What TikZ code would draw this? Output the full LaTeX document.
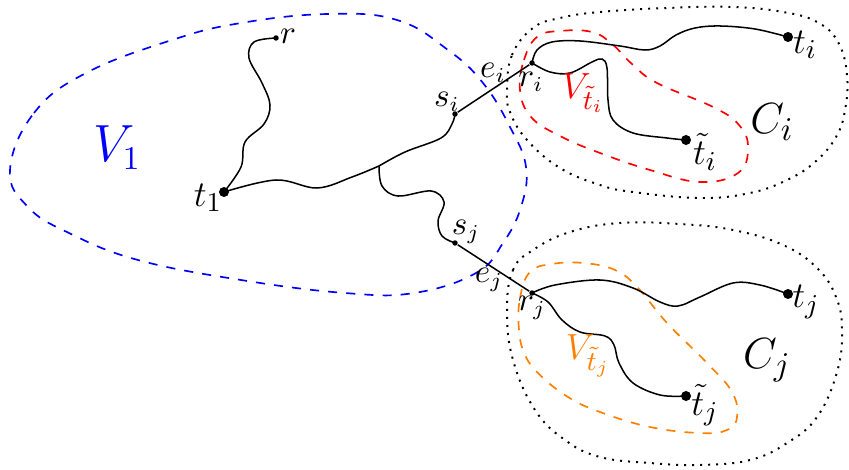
\documentclass[tikz,border=0pt]{standalone}
\begin{document}
\begin{tikzpicture}[x=0.33pt,y=-0.33pt]
\tikzset{
  bigdot/.style={circle,fill=black,inner sep=0pt,minimum size=3.3pt},
  smalldot/.style={circle,fill=black,inner sep=0pt,minimum size=1.8pt},
  lbl/.style={inner sep=0pt,font=\fontsize{10.5}{12}\selectfont},
  tlbl/.style={inner sep=0pt,font=\fontsize{12.5}{14}\selectfont},
  biglbl/.style={inner sep=0pt,font=\fontsize{15}{17}\selectfont},
  edge/.style={line width=0.5pt},
  region/.style={line width=0.55pt,dashed},
  comp/.style={line width=0.65pt,dotted},
}
\useasboundingbox (0,0) rectangle (849,469);

% regions
\draw[region,blue] plot[smooth cycle,tension=0.7] coordinates {
  (10,170) (34,113) (86,73) (172,40) (241,23) (328,14) (397,20) (448,50)
  (483,83) (510,127) (526,167) (521,207) (503,243) (476,273) (414,293)
  (345,293) (241,280) (138,260) (69,233) (28,207)};
\draw[comp] plot[smooth cycle,tension=0.7] coordinates {
  (507,90) (512,55) (533,28) (560,18) (600,12) (667,8) (733,7) (783,12)
  (817,22) (838,42) (847,75) (845,110) (836,137) (815,162) (787,180)
  (750,193) (700,198) (633,192) (600,185) (560,168) (527,140) (510,112)};
\draw[comp] plot[smooth cycle,tension=0.7] coordinates {
  (507,310) (513,270) (533,250) (570,232) (620,223) (680,224) (733,230)
  (783,245) (817,268) (836,297) (842,330) (837,372) (817,417) (787,443)
  (750,460) (700,465) (650,463) (600,457) (565,440) (535,410) (513,360)};
\draw[region,red] plot[smooth cycle,tension=0.7] coordinates {
  (520,90) (524,60) (537,37) (560,31) (592,32) (612,44) (632,64) (657,83)
  (713,107) (739,125) (748,148) (738,173) (700,182) (650,170) (600,153)
  (560,136) (531,117)};
\draw[region,orange] plot[smooth cycle,tension=0.7] coordinates {
  (519,330) (520,298) (530,272) (552,264) (583,263) (615,270) (638,288)
  (667,323) (707,363) (732,392) (737,417) (727,430) (700,433) (650,427)
  (600,412) (568,397) (540,375) (525,355)};

% vertices
\node[smalldot] (r) at (276,38) {};
\node[bigdot] (t1) at (224,192) {};
\node[smalldot] (si) at (455,114) {};
\node[smalldot] (ri) at (532,63) {};
\node[smalldot] (sj) at (455,243) {};
\node[smalldot] (rj) at (532,293) {};
\node[bigdot] (ti) at (788,37) {};
\node[bigdot] (tti) at (686,140) {};
\node[bigdot] (tj) at (788,294) {};
\node[bigdot] (ttj) at (686,396) {};
\coordinate (junc) at (379,166);

% connectors
\draw[edge] plot[smooth,tension=0.6] coordinates {
  (r.center) (254,42) (249,58) (262,83) (270,105) (264,124) (245,142)
  (241,167) (t1.center)};
\draw[edge] plot[smooth,tension=0.6] coordinates {
  (t1.center) (276,180) (317,188) (352,177) (junc)};
\draw[edge] plot[smooth,tension=0.6] coordinates {
  (junc) (405,152) (441,138) (452,124) (si.center)};
\draw[edge] plot[smooth,tension=0.6] coordinates {
  (junc) (382,186) (398,196) (431,191) (444,202) (438,221) (442,236)
  (sj.center)};
\draw[edge] (si) -- (ri);
\draw[edge] (sj) -- (rj);
\draw[edge] plot[smooth,tension=0.6] coordinates {
  (ri.center) (537,50) (552,42) (580,41) (620,46) (645,50) (660,46)
  (676,35) (695,28) (720,26) (755,29) (ti.center)};
\draw[edge] plot[smooth,tension=0.6] coordinates {
  (ri.center) (550,72) (570,73) (592,62) (602,59) (607,68) (608,100)
  (613,120) (633,133) (667,138) (tti.center)};
\draw[edge] plot[smooth,tension=0.6] coordinates {
  (rj.center) (555,285) (600,280) (633,288) (660,302) (678,306) (700,297)
  (733,283) (760,285) (tj.center)};
\draw[edge] plot[smooth,tension=0.6] coordinates {
  (rj.center) (548,302) (562,320) (580,332) (605,336) (614,345) (619,363)
  (633,383) (660,395) (ttj.center)};

% labels
\node[lbl] (lr) at (288,36) {$r$};
\node[tlbl] (lt1) at (208,198) {$t_1$};
\node[lbl] (lsi) at (447,102) {$s_i$};
\node[lbl] (lei) at (493,73) {$e_i$};
\node[lbl] (lri) at (531,82) {$r_i$};
\node[lbl] (lsj) at (466,232) {$s_j$};
\node[lbl] (lej) at (489,280) {$e_j$};
\node[lbl] (lrj) at (532,308) {$r_j$};
\node[tlbl] (lti) at (805,45) {$t_i$};
\node[tlbl] (ltti) at (705,152) {$\tilde t_i$};
\node[tlbl] (ltj) at (806,302) {$t_j$};
\node[tlbl] (lttj) at (705,405) {$\tilde t_j$};
\node[biglbl] (lci) at (772,122) {$C_i$};
\node[biglbl] (lcj) at (767,360) {$C_j$};
\node[inner sep=0pt,font=\fontsize{13}{15}\selectfont,text=red] (lvi) at (583,93) {$V_{\tilde t_i}$};
\node[inner sep=0pt,font=\fontsize{13}{15}\selectfont,text=orange] (lvj) at (588,356) {$V_{\tilde t_j}$};
\node[inner sep=0pt,font=\fontsize{16}{18}\selectfont,text=blue] (lv1) at (117,148) {$V_1$};
\end{tikzpicture}
\end{document}
